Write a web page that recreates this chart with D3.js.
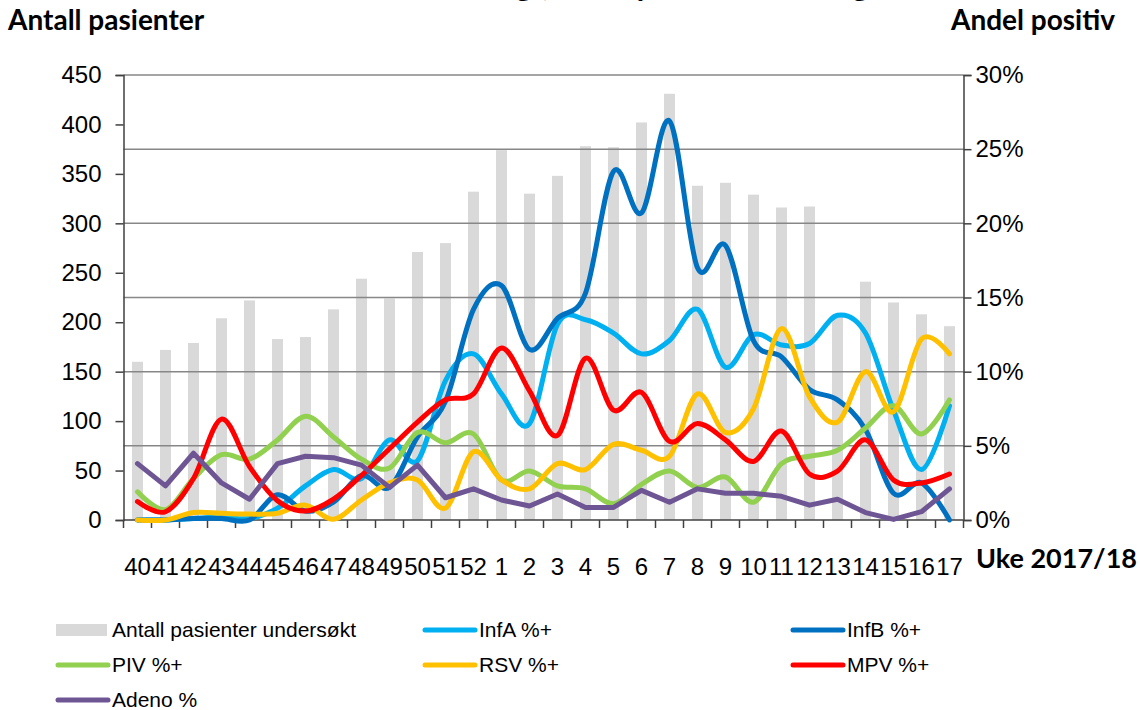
<!DOCTYPE html>
<html>
<head>
<meta charset="utf-8">
<title>Antall pasienter og andel positiv</title>
<script src="https://d3js.org/d3.v7.min.js"></script>
<style>
  body { margin: 0; background: #fff; }
  svg { font-family: "Liberation Sans", Arial, sans-serif; }
  .tick text { fill: #000; }
  .ttl { font-family: Lato, "Open Sans", sans-serif; font-weight: bold; }
</style>
</head>
<body>
<div id="chart"></div>
<script>
// uker (week labels)
var weeks = ["40","41","42","43","44","45","46","47","48","49","50","51","52",
             "1","2","3","4","5","6","7","8","9","10","11","12","13","14","15","16","17"];

// antall pasienter undersøkt (left axis)
var antall = [160,172,179,204,222,183,185,213,244,224,271,280,332,
              374,330,348,378,377,402,431,338,341,329,316,317,207,241,220,208,196];

// andel positiv, % (right axis)
var infA  = [0,0,0.1,0.2,0.1,0.8,2.3,3.4,2.8,5.4,4.0,9.4,11.2,
             8.5,6.5,13.2,13.5,12.6,11.2,12.1,14.2,10.3,12.5,11.8,11.9,13.8,12.6,7.4,3.4,7.7];
var infB  = [0,0,0.1,0.1,0,1.7,0.6,1.2,3.0,2.2,5.6,8.0,14.2,
             15.8,11.5,13.6,15.3,23.5,20.7,26.9,17.0,18.5,12.1,11.0,8.8,8.1,6.1,1.8,2.5,0];
var piv   = [1.9,0.7,2.8,4.4,4.1,5.4,7.0,5.6,4.1,3.5,5.9,5.2,5.8,
             2.7,3.3,2.3,2.1,1.1,2.4,3.3,2.2,2.9,1.2,3.8,4.3,4.7,6.2,7.7,5.8,8.1];
var rsv   = [0,0,0.5,0.45,0.4,0.45,1.0,0.05,1.35,2.5,2.7,0.8,4.6,
             2.7,2.1,3.8,3.4,5.1,4.7,4.3,8.5,5.9,7.5,12.9,8.3,6.6,10.0,7.3,12.2,11.2];
var mpv   = [1.24,0.56,2.8,6.8,3.6,1.3,0.6,1.4,3.0,4.8,6.6,8.1,8.5,
             11.6,8.7,5.7,10.9,7.4,8.6,5.3,6.5,5.4,3.95,6.0,3.1,3.3,5.4,2.7,2.5,3.1];
var adeno = [3.8,2.3,4.5,2.5,1.4,3.8,4.3,4.2,3.7,2.2,3.7,1.5,2.1,
             1.35,0.94,1.75,0.85,0.85,2.0,1.2,2.1,1.8,1.8,1.6,1.0,1.4,0.5,0.04,0.56,2.1];

var leftTicks = [0,50,100,150,200,250,300,350,400,450];
var rightTicks = [0,5,10,15,20,25,30];

var series = [
  { name: "InfA %+",  values: infA,  color: "#00B0F0", smooth: true },
  { name: "InfB %+",  values: infB,  color: "#0070C0", smooth: true },
  { name: "PIV %+",   values: piv,   color: "#92D050", smooth: true },
  { name: "RSV %+",   values: rsv,   color: "#FFC000", smooth: true },
  { name: "MPV %+",   values: mpv,   color: "#FF0000", smooth: true },
  { name: "Adeno %",  values: adeno, color: "#6E5593", smooth: false }
];

var W = 1140, H = 710;
var plotL = 123.5, plotR = 963.5, plotT = 75, plotB = 520;

var svg = d3.select("#chart").append("svg")
  .attr("width", W).attr("height", H);

// title, mostly cut off at the top edge like in the original
svg.append("text")
  .attr("class", "ttl")
  .attr("x", 152).attr("y", -4)
  .style("font-size", "30px")
  .text("Luftveisvirus hos barn innlagt, andel positive tester og antall undersøkt");

var x = d3.scaleBand().domain(weeks).range([plotL, plotR]).padding(0);
var yL = d3.scaleLinear().domain([0, 450]).range([plotB, plotT]);
var yR = d3.scaleLinear().domain([0, 30]).range([plotB, plotT]);

// bars
svg.append("g").selectAll("rect")
  .data(antall)
  .enter().append("rect")
  .attr("x", function (d, i) { return x(weeks[i]) + x.bandwidth() / 2 - 5.5; })
  .attr("width", 11)
  .attr("y", function (d) { return yL(d); })
  .attr("height", function (d) { return plotB - yL(d); })
  .attr("fill", "#D9D9D9");

// gridlines from right axis
svg.append("g").selectAll("line")
  .data(rightTicks.filter(function (d) { return d > 0; }))
  .enter().append("line")
  .attr("x1", plotL).attr("x2", plotR)
  .attr("y1", function (d) { return yR(d); })
  .attr("y2", function (d) { return yR(d); })
  .attr("stroke", "#878787").attr("stroke-width", 1.5);

// axes
var axL = svg.append("g")
  .attr("transform", "translate(" + plotL + ",0)")
  .call(d3.axisLeft(yL).tickValues(leftTicks).tickSize(8).tickPadding(14));
var axR = svg.append("g")
  .attr("transform", "translate(" + plotR + ",0)")
  .call(d3.axisRight(yR).tickValues(rightTicks).tickSize(8).tickPadding(4)
    .tickFormat(function (d) { return d + "%"; }));
var axB = svg.append("g")
  .attr("transform", "translate(0," + plotB + ")")
  .call(d3.axisBottom(x).tickSize(0).tickPadding(38));

[axL, axR, axB].forEach(function (a) {
  a.selectAll(".domain").attr("stroke", "#404040").attr("stroke-width", 1.5);
  a.selectAll(".tick line").attr("stroke", "#404040").attr("stroke-width", 1.5);
  a.selectAll(".tick text").style("font-size", "24px")
    .style("font-family", "'Liberation Sans', Arial, sans-serif");
});
axB.select(".domain").remove();
axB.append("line")
  .attr("x1", plotL).attr("x2", plotR).attr("y1", 0).attr("y2", 0)
  .attr("stroke", "#404040").attr("stroke-width", 1.5);
// band edge ticks on the x axis
axB.selectAll(".edge")
  .data(d3.range(weeks.length + 1))
  .enter().append("line")
  .attr("class", "edge")
  .attr("x1", function (i) { return plotL + i * x.bandwidth(); })
  .attr("x2", function (i) { return plotL + i * x.bandwidth(); })
  .attr("y1", 0).attr("y2", 8)
  .attr("stroke", "#404040").attr("stroke-width", 1.5);

// lines
series.forEach(function (s) {
  var line = d3.line()
    .x(function (d, i) { return x(weeks[i]) + x.bandwidth() / 2; })
    .y(function (d) { return yR(d); })
    .curve(s.smooth ? d3.curveCardinal.tension(0) : d3.curveLinear);
  svg.append("path")
    .datum(s.values)
    .attr("d", line)
    .attr("fill", "none")
    .attr("stroke", s.color)
    .attr("stroke-width", 5)
    .attr("stroke-linejoin", "round")
    .attr("stroke-linecap", "round");
});

// axis titles
svg.append("text").attr("class", "ttl")
  .attr("x", 8).attr("y", 30).style("font-size", "28px")
  .text("Antall pasienter");
svg.append("text").attr("class", "ttl")
  .attr("x", 1115).attr("y", 30).attr("text-anchor", "end").style("font-size", "28px")
  .text("Andel positiv");
svg.append("text").attr("class", "ttl")
  .attr("x", 1137).attr("y", 568).attr("text-anchor", "end").style("font-size", "27px")
  .text("Uke 2017/18");

// legend
var legendItems = [{ name: "Antall pasienter undersøkt", color: "#D9D9D9", bar: true }]
  .concat(series);
var colX = [56, 423, 791];
var rowY = [630, 665, 700];

var lg = svg.append("g").selectAll("g")
  .data(legendItems)
  .enter().append("g")
  .attr("transform", function (d, i) {
    return "translate(" + colX[i % 3] + "," + rowY[Math.floor(i / 3)] + ")";
  });

lg.each(function (d) {
  var g = d3.select(this);
  if (d.bar) {
    g.append("rect").attr("x", 0).attr("y", -6).attr("width", 51).attr("height", 12)
      .attr("fill", d.color);
  } else {
    g.append("line").attr("x1", 2).attr("x2", 52).attr("y1", 0).attr("y2", 0)
      .attr("stroke", d.color).attr("stroke-width", 5).attr("stroke-linecap", "round");
  }
  g.append("text").attr("x", 56).attr("y", 7)
    .style("font-size", "21px")
    .text(d.name);
});
</script>
</body>
</html>
